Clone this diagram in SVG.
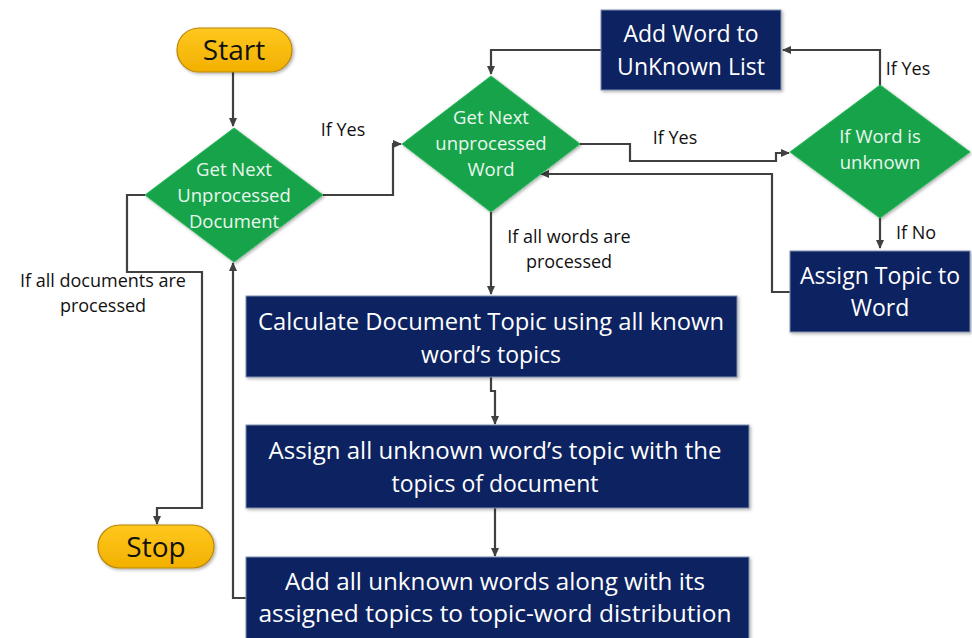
<svg xmlns="http://www.w3.org/2000/svg" width="972" height="638" viewBox="0 0 972 638">
<defs>
<marker id="ah" markerWidth="10" markerHeight="10" refX="8" refY="5" orient="auto" markerUnits="userSpaceOnUse">
<path d="M0,1 L9,5 L0,9 z" fill="#404040"/>
</marker>
<linearGradient id="yg" x1="0" y1="0" x2="0" y2="1">
<stop offset="0" stop-color="#FFC81E"/>
<stop offset="1" stop-color="#F2B000"/>
</linearGradient>
<filter id="sh" x="-10%" y="-10%" width="130%" height="130%">
<feDropShadow dx="1.5" dy="1.5" stdDeviation="1.5" flood-color="#000" flood-opacity="0.3"/>
</filter>
</defs>
<style>
.term{fill:url(#yg);stroke:#B8860B;stroke-width:1.2}
.dec{fill:#16A34A;stroke:#2DB65C;stroke-width:1}
.proc{fill:#0B2160;stroke:#8090B0;stroke-width:1}
.conn path{fill:none;stroke:#404040;stroke-width:2.2}
text{font-family:"Open Sans","Liberation Sans",sans-serif;text-anchor:middle}
.tt{font-size:28px;fill:#111}
.dt{font-size:18.5px;fill:#EAF7EE}
.pt{font-size:23px;fill:#FFFFFF}
.lb{font-size:18px;fill:#111}
</style>
<rect width="972" height="638" fill="#FFFFFF"/>

<g class="conn" id="connectors">
<path d="M233,72 V126" marker-end="url(#ah)"/>
<path d="M323,195 H393 V144 H401" marker-end="url(#ah)"/>
<path d="M580,144 H630 V161 H776 V153 H789" marker-end="url(#ah)"/>
<path d="M880,86 V50 H783" marker-end="url(#ah)"/>
<path d="M601,50 H491 V74" marker-end="url(#ah)"/>
<path d="M880,218 V248" marker-end="url(#ah)"/>
<path d="M790,292 H772 V174 H541" marker-end="url(#ah)"/>
<path d="M491,212 V294" marker-end="url(#ah)"/>
<path d="M491,377 V391 H495 V424" marker-end="url(#ah)"/>
<path d="M495,508 V556" marker-end="url(#ah)"/>
<path d="M246,598 H233 V263" marker-end="url(#ah)"/>
<path d="M145,195 H127 V272 H202 V508 H157 V524" marker-end="url(#ah)"/>
</g>

<g id="start">
<rect class="term" x="177" y="28" width="115" height="44" rx="22" filter="url(#sh)"/>
<text class="tt" x="234" y="60">Start</text>
</g>

<g id="stop">
<rect class="term" x="98" y="525" width="116" height="43" rx="21.5" filter="url(#sh)"/>
<text class="tt" x="156" y="557">Stop</text>
</g>

<g id="doc-decision">
<polygon class="dec" points="234,128 323,195 234,262 145,195" filter="url(#sh)"/>
<text class="dt" x="234" y="176">Get Next</text>
<text class="dt" x="234" y="202">Unprocessed</text>
<text class="dt" x="234" y="228">Document</text>
</g>

<g id="word-decision">
<polygon class="dec" points="491,76 580,144 491,212 402,144" filter="url(#sh)"/>
<text class="dt" x="491" y="124">Get Next</text>
<text class="dt" x="491" y="150">unprocessed</text>
<text class="dt" x="491" y="176">Word</text>
</g>

<g id="unknown-decision">
<polygon class="dec" points="880,85 970,152 880,218 790,152" filter="url(#sh)"/>
<text class="dt" x="880" y="143">If Word is</text>
<text class="dt" x="880" y="169">unknown</text>
</g>

<g id="add-word">
<rect class="proc" x="601" y="10" width="180" height="80" filter="url(#sh)"/>
<text class="pt" x="691" y="42">Add Word to</text>
<text class="pt" x="691" y="75">UnKnown List</text>
</g>

<g id="assign-topic">
<rect class="proc" x="790" y="251" width="180" height="81" filter="url(#sh)"/>
<text class="pt" x="880" y="284">Assign Topic to</text>
<text class="pt" x="880" y="316">Word</text>
</g>

<g id="calc-doc-topic">
<rect class="proc" x="246" y="296" width="491" height="81" filter="url(#sh)"/>
<text class="pt" x="491" y="330" textLength="466" lengthAdjust="spacingAndGlyphs">Calculate Document Topic using all known</text>
<text class="pt" x="491" y="363">word’s topics</text>
</g>

<g id="assign-unknown">
<rect class="proc" x="246" y="425" width="503" height="83" filter="url(#sh)"/>
<text class="pt" x="495" y="459" textLength="453" lengthAdjust="spacingAndGlyphs">Assign all unknown word’s topic with the</text>
<text class="pt" x="495" y="492">topics of document</text>
</g>

<g id="add-unknown">
<rect class="proc" x="246" y="557" width="503" height="85" filter="url(#sh)"/>
<text class="pt" x="495" y="590" textLength="420" lengthAdjust="spacingAndGlyphs">Add all unknown words along with its</text>
<text class="pt" x="495" y="622" textLength="473" lengthAdjust="spacingAndGlyphs">assigned topics to topic-word distribution</text>
</g>

<g id="labels">
<text class="lb" x="343" y="136">If Yes</text>
<text class="lb" x="675" y="144">If Yes</text>
<text class="lb" x="908" y="75">If Yes</text>
<text class="lb" x="916" y="239">If No</text>
<text class="lb" x="569" y="243">If all words are</text>
<text class="lb" x="569" y="268">processed</text>
<text class="lb" x="103" y="287">If all documents are</text>
<text class="lb" x="103" y="312">processed</text>
</g>
</svg>
